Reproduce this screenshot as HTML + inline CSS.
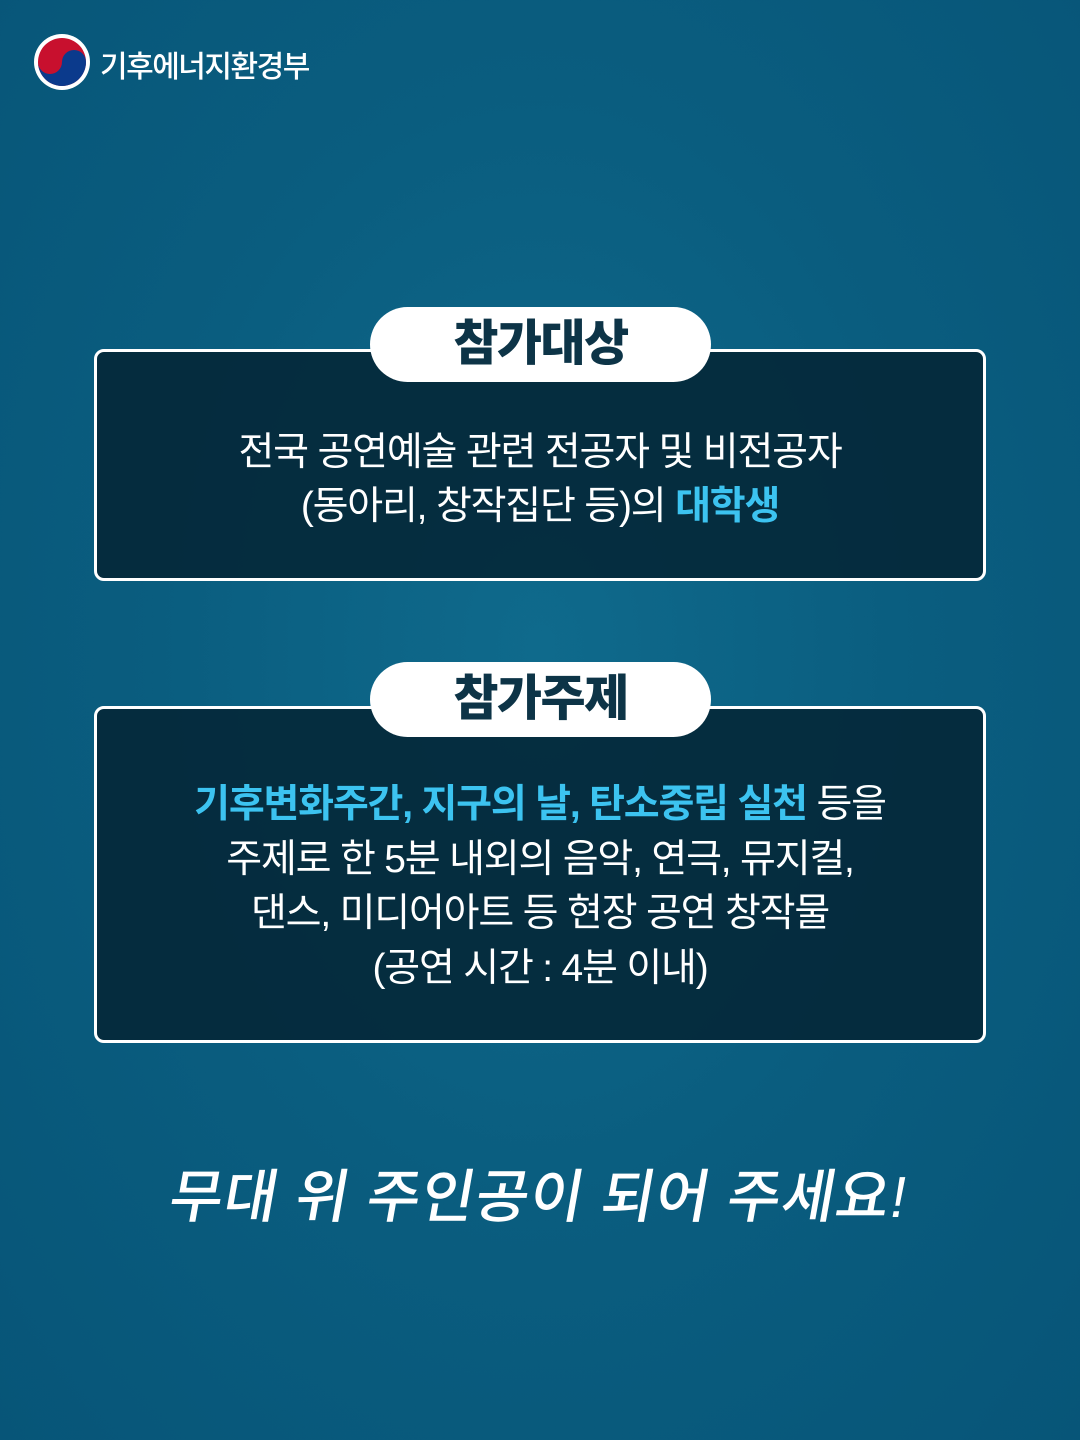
<!DOCTYPE html>
<html><head><meta charset="utf-8"><style>
*{margin:0;padding:0;box-sizing:border-box}
body{width:1080px;height:1440px;overflow:hidden;background:radial-gradient(ellipse at 50% 45%,#0f6a8c 0%,#0a5d7f 50%,#075578 100%);font-family:"Liberation Sans","Noto Sans CJK KR",sans-serif;position:relative}
.box{position:absolute;left:94px;width:892px;background:rgba(5,38,54,0.88);border:3px solid #fff;border-radius:10px}
.pill{position:absolute;left:370px;width:341px;height:75px;background:#fff;border-radius:38px;color:#0d3447;font-weight:900;font-size:49px;text-align:center;line-height:75px;letter-spacing:-1.5px}
.txt{position:absolute;left:94px;width:892px;text-align:center;color:#fff;font-size:39px;letter-spacing:-1.2px}
.hl{color:#3cc3f0;font-weight:700}
</style></head><body>
<svg style="position:absolute;left:33px;top:33px" width="58" height="58" viewBox="0 0 58 58">
<circle cx="29" cy="29" r="28" fill="#fff"/>
<circle cx="29" cy="29" r="24" fill="#c8102e"/>
<path d="M5 29 A24 24 0 0 0 53 29 A12 12 0 0 0 29 29 A12 12 0 0 1 5 29Z" fill="#0b3a8c"/>
</svg>
<div style="position:absolute;left:100px;top:42px;color:#fff;font-size:30px;font-weight:500;letter-spacing:-1.5px">기후에너지환경부</div>

<div class="box" style="top:349px;height:232px"></div>
<div class="pill" style="top:307px">참가대상</div>
<div class="txt" style="top:426px;line-height:54px">전국 공연예술 관련 전공자 및 비전공자<br>(동아리, 창작집단 등)의 <span class="hl">대학생</span></div>

<div class="box" style="top:706px;height:337px"></div>
<div class="pill" style="top:662px">참가주제</div>
<div class="txt" style="top:778px;line-height:54.5px"><span class="hl">기후변화주간, 지구의 날, 탄소중립 실천</span> 등을<br>주제로 한 5분 내외의 음악, 연극, 뮤지컬,<br>댄스, 미디어아트 등 현장 공연 창작물<br>(공연 시간 : 4분 이내)</div>

<div style="position:absolute;left:0;width:1080px;top:1150px;text-align:center;color:#fff;font-size:58px;font-weight:500;transform:skewX(-10deg);letter-spacing:1px">무대 위 주인공이 되어 주세요!</div>
</body></html>
